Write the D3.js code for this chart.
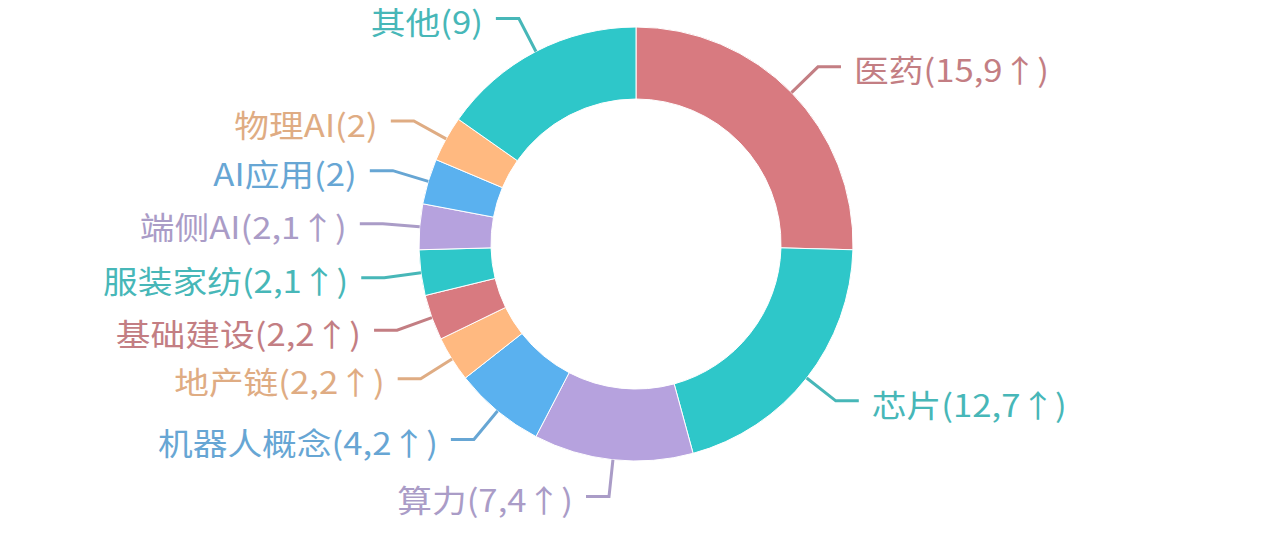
<!DOCTYPE html>
<html>
<head>
<meta charset="utf-8">
<script src="https://cdn.jsdelivr.net/npm/d3@7"></script>
<style>
  body { margin: 0; background: #fff; }
  svg { display: block; }
</style>
</head>
<body>
<svg id="chart"></svg>
<script>
// Datos del gráfico: sectores, número de valores y número de subidas
var sectores = ["医药", "芯片", "算力", "机器人概念", "地产链", "基础建设", "服装家纺", "端侧AI", "AI应用", "物理AI", "其他"];
var valores = [15, 12, 7, 4, 2, 2, 2, 2, 2, 2, 9];
var subidas = [9, 7, 4, 2, 2, 2, 1, 1, null, null, null];
var colores = ["#d87a80", "#2ec7c9", "#b6a2de", "#5ab1ef", "#ffb980"];

function textoEtiqueta(i) {
	var t = sectores[i] + "(" + valores[i];
	if (subidas[i] != null)
		t += "," + subidas[i] + "↑";
	return t + ")";
}

function renderDonut() {
	const width = 1272, height = 542;
	const cx = 636, cy = 244;
	const radio = 217, radioInterior = 145;
	const len1 = 37, len2 = 23, hueco = 13;
	const altoEtiqueta = 40;

	const svg = d3.select("#chart")
		.attr("width", width)
		.attr("height", height);

	const g = svg.append("g")
		.attr("transform", `translate(${cx},${cy})`);

	const pie = d3.pie().sort(null).value(function(d) { return d; });
	const arcos = pie(valores);

	const arc = d3.arc().innerRadius(radioInterior).outerRadius(radio);

	// El último sector no repite el color del primero (son vecinos)
	const n = valores.length;
	const color = function(i) {
		var k = i % colores.length;
		if (i == n - 1 && k == 0)
			k = 1;
		return colores[k];
	};
	const colorTexto = function(i) { return d3.interpolateRgb(color(i), "#8a8a8a")(0.27); };

	// Sectores del anillo
	g.selectAll("path.slice")
		.data(arcos)
		.enter()
		.append("path")
		.attr("class", "slice")
		.attr("d", arc)
		.attr("fill", function(d, i) { return color(i); })
		.attr("stroke", "#fff")
		.attr("stroke-width", 1);

	// Posición natural de cada etiqueta
	const rA = radio + len1;
	var etiquetas = arcos.map(function(d, i) {
		var mid = (d.startAngle + d.endAngle) / 2;
		var s = Math.sin(mid), c = Math.cos(mid);
		return {
			i: i,
			dir: s < 0 ? -1 : 1,
			x0: radio * s, y0: -radio * c,
			x1: rA * s, y1: -rA * c,
			movida: false
		};
	});

	// Evitar solapes en cada lado
	[-1, 1].forEach(function(dir) {
		var lado = etiquetas.filter(function(e) { return e.dir == dir; })
			.sort(function(a, b) { return a.y1 - b.y1; });
		for (var k = 1; k < lado.length; k++) {
			var minY = lado[k - 1].y1 + altoEtiqueta;
			if (lado[k].y1 < minY) {
				lado[k].y1 = minY;
				lado[k].movida = true;
			}
		}
		lado.forEach(function(e) {
			if (e.movida && Math.abs(e.y1) < rA)
				e.x1 = dir * Math.sqrt(rA * rA - e.y1 * e.y1);
		});
	});

	// Líneas guía
	g.selectAll("path.guia")
		.data(etiquetas)
		.enter()
		.append("path")
		.attr("class", "guia")
		.attr("d", function(e) {
			return "M" + e.x0 + "," + e.y0 + "L" + e.x1 + "," + e.y1 + "L" + (e.x1 + e.dir * len2) + "," + e.y1;
		})
		.attr("fill", "none")
		.attr("stroke", function(e) { return colorTexto(e.i); })
		.attr("stroke-width", 3);

	// Textos
	g.selectAll("g.etiqueta")
		.data(etiquetas)
		.enter()
		.append("g")
		.attr("class", "etiqueta")
		.attr("transform", function(e) {
			return "translate(" + (e.x1 + e.dir * (len2 + hueco)) + "," + (e.y1 + 2) + ") scale(1.12,1)";
		})
		.append("text")
		.attr("text-anchor", function(e) { return e.dir < 0 ? "end" : "start"; })
		.attr("dominant-baseline", "central")
		.attr("font-family", "'Noto Sans CJK SC', 'Noto Sans', sans-serif")
		.attr("font-size", 31)
		.attr("fill", function(e) { return colorTexto(e.i); })
		.text(function(e) { return textoEtiqueta(e.i); });
}

renderDonut();
</script>
</body>
</html>
